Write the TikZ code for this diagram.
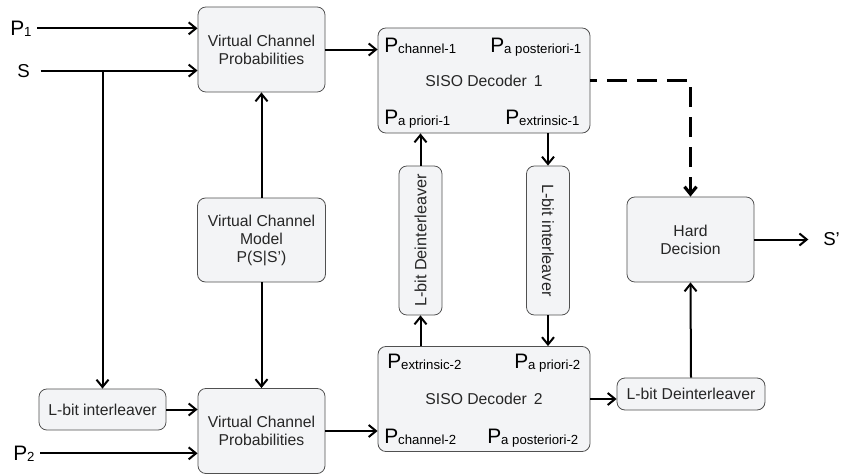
\documentclass[tikz,border=0pt]{standalone}
\usepackage{fontspec}
\setmainfont{Liberation Sans}
\usetikzlibrary{arrows.meta}
\definecolor{boxfill}{HTML}{F3F4F6}
\definecolor{boxline}{HTML}{505050}
\newcommand{\Plab}[1]{{\fontsize{15.7}{16}\selectfont P}\raisebox{-0.8pt}{\fontsize{9.9}{10}\selectfont #1}}
\begin{document}
\begin{tikzpicture}[x=0.75pt,y=-0.75pt,
  blk/.style={draw=boxline,fill=boxfill,rounded corners=6pt,line width=0.6pt,
    align=center,text=black!85,font=\fontsize{11.8}{13.5}\selectfont},
  arr/.style={line width=1.5pt,-{Straight Barb[length=5.5pt,width=9pt]}},
  lbl/.style={anchor=base west,inner sep=0pt}]
\useasboundingbox (0,0) rectangle (843,475);
% blocks
\node[blk,minimum width=95.3pt,minimum height=63.8pt] (vcp1) at (261.5,49.5) {Virtual Channel\\Probabilities};
\node[blk,minimum width=96pt,minimum height=63pt] (vcm) at (261.5,240) {Virtual Channel\\Model\\P(S|S')};
\node[blk,minimum width=95.3pt,minimum height=63.8pt] (vcp2) at (261.5,431) {Virtual Channel\\Probabilities};
\node[blk,minimum width=95.3pt,minimum height=30.8pt] (lint) at (102.5,409.5) {L-bit interleaver};
\node[blk,minimum width=159pt,minimum height=78.8pt] (siso1) at (484,80.5) {SISO Decoder\hspace{2pt} 1};
\node[blk,minimum width=159pt,minimum height=78.8pt] (siso2) at (484,399) {SISO Decoder\hspace{2pt} 2};
\node[blk,minimum width=32.3pt,minimum height=111.8pt,font=\fontsize{12.2}{14}\selectfont] (deint1) at (420.5,240.5) {\rotatebox{90}{L-bit Deinterleaver}};
\node[blk,minimum width=32.3pt,minimum height=111.8pt,font=\fontsize{12.2}{14}\selectfont] (int1) at (548,240.5) {\rotatebox{-90}{L-bit interleaver}};
\node[blk,minimum width=95.3pt,minimum height=63.8pt] (hd) at (690.5,239.5) {Hard\\Decision};
\node[blk,minimum width=111pt,minimum height=24pt] (deint2) at (691,394) {L-bit Deinterleaver};
% decoder ports
\node[lbl] (pch1) at (384,52) {\Plab{channel-1}};
\node[lbl] (pap1) at (490,52) {\Plab{a posteriori-1}};
\node[lbl] (ppr1) at (384,124) {\Plab{a priori-1}};
\node[lbl] (pex1) at (505,124) {\Plab{extrinsic-1}};
\node[lbl] (pex2) at (387,368) {\Plab{extrinsic-2}};
\node[lbl] (ppr2) at (514,368) {\Plab{a priori-2}};
\node[lbl] (pch2) at (384,443) {\Plab{channel-2}};
\node[lbl] (pap2) at (487,443) {\Plab{a posteriori-2}};
% inputs and output
\node[lbl] (p1) at (10,35) {\Plab{1}};
\node[lbl,font=\fontsize{14}{16}\selectfont] (s) at (17,77) {S};
\node[lbl] (p2) at (13,460) {\Plab{2}};
\node[lbl,font=\fontsize{14}{16}\selectfont] (sout) at (823,245) {S'};
% connections
\draw[arr,shorten <=4pt] (p1.east) -- (vcp1.west |- p1.east);
\draw[arr,shorten <=8pt] (s.east) -- (vcp1.west |- s.east);
\coordinate (sbr) at (lint.north |- s.east);
\draw[arr] (sbr) -- (lint.north);
\draw[arr] (lint.east) -- (vcp2.west |- lint.east);
\draw[arr,shorten <=4pt] (p2.east) -- (vcp2.west |- p2.east);
\draw[arr] (vcm.north) -- (vcp1.south);
\draw[arr] (vcm.south) -- (vcp2.north);
\draw[arr] (vcp1.east) -- (siso1.west |- vcp1.east);
\draw[arr] (vcp2.east) -- (siso2.west |- vcp2.east);
\draw[arr] (deint1.south |- siso2.north) -- (deint1.south);
\draw[arr] (deint1.north) -- (deint1.north |- siso1.south);
\draw[arr] (int1.north |- siso1.south) -- (int1.north);
\draw[arr] (int1.south) -- (int1.south |- siso2.north);
\draw[arr] (siso2.east) -- (deint2.west |- siso2.east);
\draw[arr] (deint2.north) -- (hd.south);
\draw[arr,shorten >=11pt] (hd.east) -- (sout.west |- hd.east);
\draw[arr,line width=2.4pt,dash pattern=on 15pt off 7.5pt,dash phase=10pt] (siso1.east) -| (hd.north);
\end{tikzpicture}
\end{document}
